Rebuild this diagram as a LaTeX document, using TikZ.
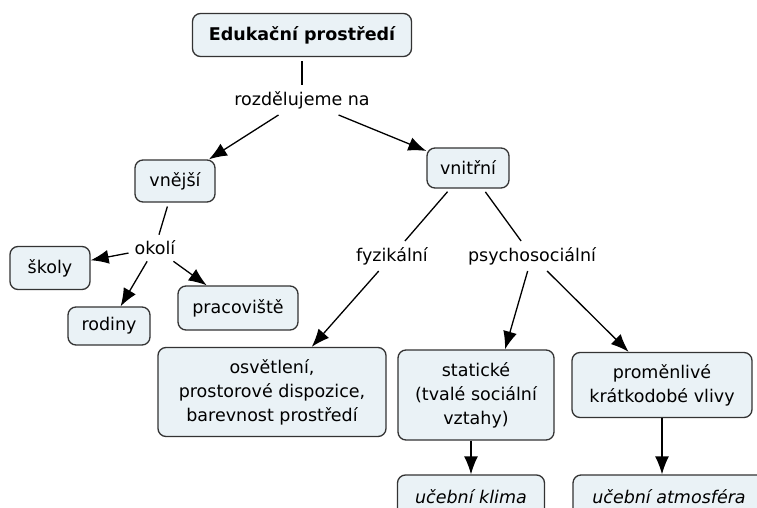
\documentclass[tikz,border=0pt]{standalone}
\usepackage{fontspec}
\setmainfont{DejaVu Sans}
\usepackage{tikz}
\usetikzlibrary{arrows.meta}
\definecolor{boxfill}{HTML}{EAF2F6}
\definecolor{boxline}{HTML}{333333}

\begin{document}
\begin{tikzpicture}[x=1pt, y=-1pt,
    box/.style={draw=boxline, fill=boxfill, line width=1.3pt, rounded corners=8pt,
                align=center, font=\fontsize{17.5}{24}\selectfont, inner sep=4pt},
    lbl/.style={align=center, font=\fontsize{17.5}{24}\selectfont, inner sep=6pt}]
    \clip (0,0) rectangle (757,508);
    \node[box, minimum width=219, minimum height=43, font=\fontsize{17.5}{24}\selectfont\bfseries] (top) at (302,35) {Edukační prostředí};
    \node[lbl] (rozd) at (302,100) {rozdělujeme na};
    \node[box, minimum width=80, minimum height=42] (vnejsi) at (175,181) {vnější};
    \node[box, minimum width=82, minimum height=40] (vnitrni) at (468,168) {vnitřní};
    \node[lbl] (okoli) at (155,248) {okolí};
    \node[box, minimum width=80, minimum height=43] (skoly) at (50,268) {školy};
    \node[box, minimum width=82, minimum height=38] (rodiny) at (109,326) {rodiny};
    \node[box, minimum width=120, minimum height=44] (pracoviste) at (238,308) {pracoviště};
    \node[lbl] (fyz) at (392,256) {fyzikální};
    \node[lbl] (psy) at (532,256) {psychosociální};
    \node[box, minimum width=228, minimum height=89] (osvetleni) at (272,392) {osvětlení,\\prostorové dispozice,\\barevnost prostředí};
    \node[box, minimum width=156, minimum height=90] (staticke) at (476,395) {statické\\(tvalé sociální\\vztahy)};
    \node[box, minimum width=180, minimum height=65] (promenlive) at (662,385) {proměnlivé\\krátkodobé vlivy};
    \node[box, minimum width=147, minimum height=44, font=\fontsize{17.5}{24}\selectfont\itshape] (klima) at (471,497) {učební klima};
    \node[box, minimum width=192, minimum height=44, font=\fontsize{17.5}{24}\selectfont\itshape] (atmosfera) at (669,497) {učební atmosféra};
    \path[line width=1.3pt, shorten <=4pt]
    (top) edge (rozd)
    (vnejsi) edge (okoli)
    (vnitrni) edge (fyz)
              edge (psy);
    \path[line width=1.3pt, -{Latex[length=18pt, width=14pt]}]
    (rozd) edge (vnejsi)
           edge (vnitrni)
    (okoli) edge (skoly)
            edge (rodiny)
            edge (pracoviste)
    (fyz) edge (osvetleni)
    (psy) edge ([xshift=29]staticke.north)
          edge (promenlive)
    (klima |- staticke.south) edge (klima)
    (promenlive) edge (promenlive |- atmosfera.north);
\end{tikzpicture}
\end{document}
